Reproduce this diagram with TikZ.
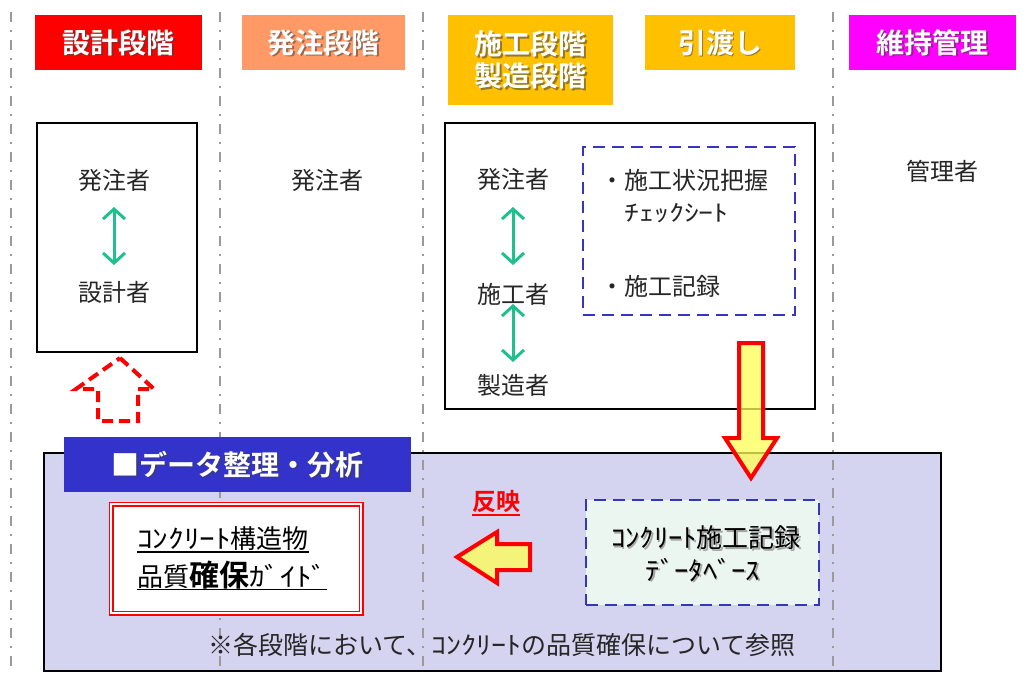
\documentclass[tikz,border=0pt]{standalone}
\usepackage{fontspec}
\usepackage{graphicx}
\setmainfont{Noto Sans CJK JP}[BoldFont={Noto Sans CJK JP Bold}]
\usetikzlibrary{arrows.meta}
\definecolor{hred}{HTML}{FF0000}
\definecolor{horange}{HTML}{FF9966}
\definecolor{hgold}{HTML}{FFC000}
\definecolor{hmag}{HTML}{FF00FF}
\definecolor{lav}{HTML}{D4D4F0}
\definecolor{tbar}{HTML}{3333CC}
\definecolor{dblue}{HTML}{3535BE}
\definecolor{mint}{HTML}{ECF6F1}
\definecolor{grn}{HTML}{1EC08E}
\definecolor{vline}{HTML}{9A9A9A}
\definecolor{ayel}{HTML}{FFFF55}
\newcommand{\hkana}[2][1.2]{\scalebox{#1}[1]{#2}}
\begin{document}
\begin{tikzpicture}[x=1pt,y=-1pt,
  hbox/.style={inner sep=0pt, minimum height=55pt},
  htext/.style={text=white, font=\bfseries\fontsize{28}{32}\selectfont, align=center, inner sep=0pt},
  hshadow/.style={text=black!75, opacity=0.55, font=\bfseries\fontsize{28}{32}\selectfont, align=center, inner sep=0pt},
  role/.style={font=\fontsize{24}{28}\selectfont, inner sep=0pt, text=black!85},
  frame/.style={draw=black, line width=2pt, inner sep=0pt},
  garrow/.style={draw=grn, line width=3pt, {Straight Barb[length=10pt,width=22pt]}-{Straight Barb[length=10pt,width=22pt]}},
  bluedash/.style={draw=dblue, line width=2.5pt, dash pattern=on 12pt off 7pt, inner sep=0pt},
  phase/.style={draw=vline, line width=2pt, dash pattern=on 10pt off 7.5pt on 2.5pt off 8pt},
  blockarrow/.style={draw=red, line width=4pt, fill=ayel, fill opacity=0.75, line join=miter},
  dbtext/.style={inner sep=0pt, font=\fontsize{26}{30}\selectfont, text=black},
  dbshadow/.style={inner sep=0pt, font=\fontsize{26}{30}\selectfont, text=black!35},
]
\useasboundingbox (0,0) rectangle (1028,673);
\fill[white] (0,0) rectangle (1028,673);

% bottom data box
\node[frame, fill=lav, minimum width=897pt, minimum height=218pt] (data) at (492.5,562) {};

% phase separators
\foreach \x in {11,220,423,833} \draw[phase] (\x,12) -- (\x,668);

% headers
\node[hbox, fill=hred, minimum width=167pt] (h1) at (118.5,42.5) {};
\node[hshadow] (h1s) at ([shift={(1.5,1.5)}]h1.center) {設計段階};
\node[htext] (h1t) at (h1.center) {設計段階};

\node[hbox, fill=horange, minimum width=163pt] (h2) at (323.5,42.5) {};
\node[hshadow] (h2s) at ([shift={(1.5,1.5)}]h2.center) {発注段階};
\node[htext] (h2t) at (h2.center) {発注段階};

\node[hbox, fill=hgold, minimum width=165pt, minimum height=90pt] (h3) at (530.5,60) {};
\node[hshadow] (h3s) at ([shift={(1.5,1.5)}]h3.center) {施工段階\\製造段階};
\node[htext] (h3t) at (h3.center) {施工段階\\製造段階};

\node[hbox, fill=hgold, minimum width=150pt] (h4) at (720,42.5) {};
\node[hshadow] (h4s) at ([shift={(1.5,1.5)}]h4.center) {引渡し};
\node[htext] (h4t) at (h4.center) {引渡し};

\node[hbox, fill=hmag, minimum width=167pt] (h5) at (932.5,42.5) {};
\node[hshadow] (h5s) at ([shift={(1.5,1.5)}]h5.center) {維持管理};
\node[htext] (h5t) at (h5.center) {維持管理};

% design stage box
\node[frame, fill=white, minimum width=160pt, minimum height=229pt] (box1) at (117,237.5) {};
\node[role] (b1a) at (114,180) {発注者};
\node[role] (b1b) at (114,292) {設計者};
\draw[garrow] ([yshift=-27pt]b1a.center) -- ([yshift=27pt]b1b.center);

% order stage
\node[role] (c2) at (327,180) {発注者};

% construction stage box
\node[frame, fill=white, minimum width=370pt, minimum height=286pt] (box3) at (630,266) {};
\node[role] (b3a) at (513,179) {発注者};
\node[role] (b3b) at (513,294) {施工者};
\node[role] (b3c) at (513,385) {製造者};
\draw[garrow] ([yshift=-28pt]b3a.center) -- ([yshift=29pt]b3b.center);
\draw[garrow] ([yshift=-10pt]b3b.center) -- ([yshift=23pt]b3c.center);

\node[bluedash, minimum width=212pt, minimum height=168pt] (rec) at (689,231) {};
\node[role, anchor=west] (r1) at (600,180) {・施工状況把握};
\node[role, anchor=west, font=\fontsize{23}{26}\selectfont] (r2) at (624,213) {\hkana[1.3]{ﾁｪｯｸｼｰﾄ}};
\node[role, anchor=west] (r3) at (600,286) {・施工記録};

% maintenance
\node[role] (c5) at (942,171) {管理者};

% red dashed up arrow
\draw[red, line width=4pt, dash pattern=on 11pt off 6pt, line join=miter]
  (120,358) -- (154,389) -- (138,389) -- (138,421) -- (98,421) -- (98,389) -- (76,389) -- cycle;

% down block arrow
\draw[blockarrow] (739,343) -- (763,343) -- (763,438) -- (777,438) -- (751,478) -- (725,438) -- (739,438) -- cycle;

% title bar
\node[inner sep=0pt, fill=tbar, minimum width=347pt, minimum height=55pt] (tb) at (237.5,464.5) {};
\node[hshadow] (tbs) at ([shift={(1.5,1.5)}]tb.center) {■データ整理・分析};
\node[htext] (tbt) at (tb.center) {■データ整理・分析};

% guide box
\node[draw=red, line width=1.5pt, double=white, double distance=2pt, fill=white,
      minimum width=250pt, minimum height=109pt, inner sep=0pt] (guide) at (236,558.5) {};
\node[anchor=west, inner sep=0pt, font=\fontsize{26}{30}\selectfont] (g1) at (137,539) {\hkana{ｺﾝｸﾘｰﾄ}構造物};
\node[anchor=west, inner sep=0pt] (g2) at (137,575) {{\fontsize{26}{30}\selectfont 品質}{\bfseries\fontsize{30}{34}\selectfont 確保}{\fontsize{26}{30}\selectfont\hkana{ｶﾞｲﾄﾞ}}};
\draw[line width=1.3pt] ([yshift=-3pt]g1.base west) -- ([yshift=-3pt]g1.base east);
\draw[line width=1.3pt] ([yshift=-3pt]g2.base west) -- ([yshift=-3pt]g2.base east);

% reflect
\node[inner sep=0pt, text=red, font=\bfseries\fontsize{24}{28}\selectfont] (hanei) at (496,502) {反映};
\draw[red, line width=1.5pt] ([yshift=-4pt]hanei.base west) -- ([yshift=-4pt]hanei.base east);
\draw[blockarrow] (530,544) -- (497,544) -- (497,532) -- (457,557) -- (497,583) -- (497,570) -- (530,570) -- cycle;

% database
\node[bluedash, fill=mint, minimum width=233pt, minimum height=105pt] (db) at (702.5,552.5) {};
\node[dbshadow] (d1s) at ([shift={(1.5,1.5)}]706,538) {\hkana[1.1]{ｺﾝｸﾘｰﾄ}施工記録};
\node[dbtext] (d1) at (706,538) {\hkana[1.1]{ｺﾝｸﾘｰﾄ}施工記録};
\node[dbshadow] (d2s) at ([shift={(1.5,1.5)}]703,570) {\hkana[1.1]{ﾃﾞｰﾀﾍﾞｰｽ}};
\node[dbtext] (d2) at (703,570) {\hkana[1.1]{ﾃﾞｰﾀﾍﾞｰｽ}};

% note
\node[inner sep=0pt, font=\fontsize{25}{28}\selectfont, text=black!85] (note) at (502,645) {※各段階において、\hkana{ｺﾝｸﾘｰﾄ}の品質確保について参照};
\end{tikzpicture}
\end{document}
